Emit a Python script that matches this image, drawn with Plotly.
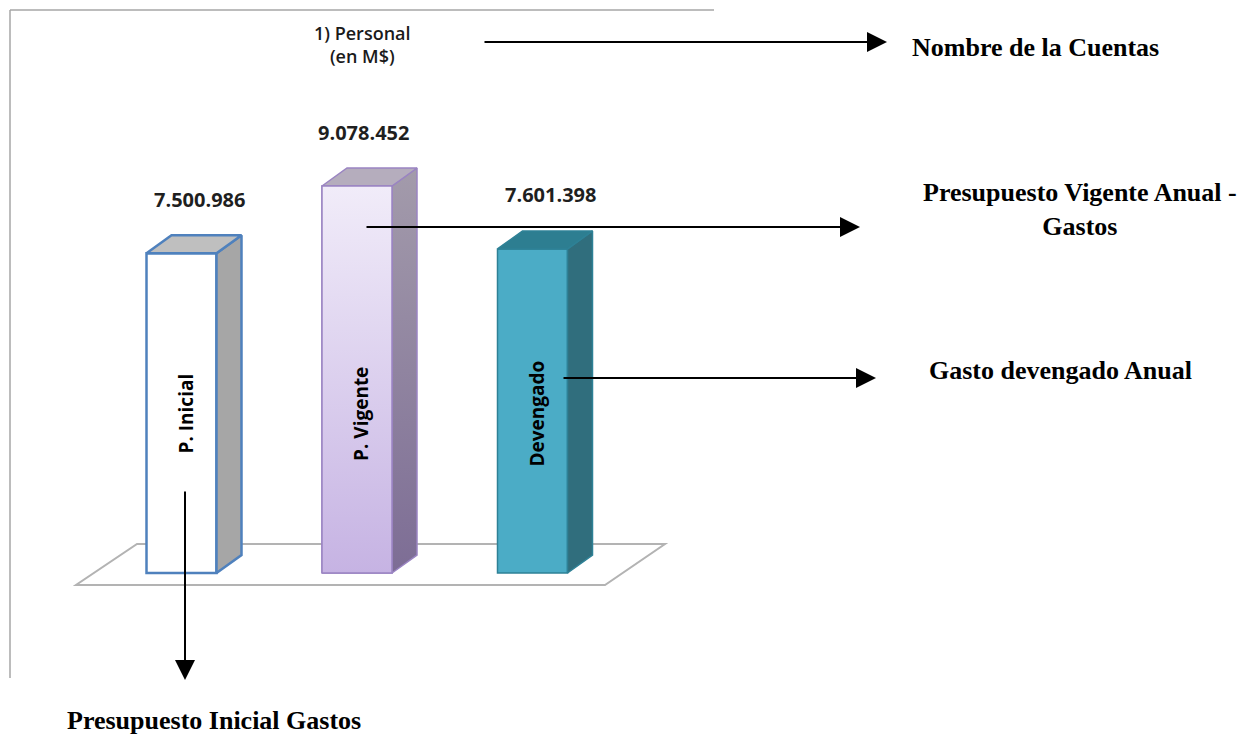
import plotly.graph_objects as go

# ---------------- data ----------------
categories = ["P. Inicial", "P. Vigente", "Devengado"]
values = [7500986, 9078452, 7601398]
value_labels = ["7.500.986", "9.078.452", "7.601.398"]
title_lines = ["1) Personal", "(en M$)"]
callout_texts = [
    "Nombre de la Cuentas",
    "Presupuesto Vigente Anual -<br>Gastos",
    "Gasto devengado Anual",
    "Presupuesto Inicial Gastos",
]

# ---------------- layout helpers ----------------
W, H = 1245, 734
BASE_PX, TOP_PX = 573, 186
UPP = max(values) / (BASE_PX - TOP_PX)  # value units per pixel


def py2val(py):
    return (BASE_PX - py) * UPP


def py2paper(py):
    return 1 - py / H


bar_x = [181.5, 357, 532.5]
bar_w = 70
DX, DY = 25, 18 * UPP

front_fill = ["#FFFFFF", "#DCCDEF", "#4BACC6"]
edge = ["#4F81BD", "#9A84C2", "#2E8196"]
edge_w = [2.5, 1.5, 1.5]
side_fill = ["#A6A6A6", "#8E80A3", "#306E7D"]
top_fill = ["#BFBFBF", "#B5ADBD", "#2D7E91"]
label_xshift = [18, 6, 18]

fig = go.Figure()

# front faces
fig.add_trace(go.Bar(
    x=bar_x, y=values, width=bar_w,
    marker=dict(color=front_fill, line=dict(color=edge, width=edge_w)),
    hoverinfo="skip",
))

for i, v in enumerate(values):
    xl = bar_x[i] - bar_w / 2
    xr = bar_x[i] + bar_w / 2
    # side face
    side = dict(
        x=[xr, xr + DX, xr + DX, xr, xr],
        y=[0, DY, v + DY, v, 0],
        mode="lines", fill="toself",
        line=dict(color=edge[i], width=edge_w[i]),
        hoverinfo="skip",
    )
    if i == 1:
        side["fillgradient"] = dict(type="vertical",
                                    colorscale=[[0, "#7D6D95"], [1, "#A39BAB"]])
    else:
        side["fillcolor"] = side_fill[i]
    fig.add_trace(go.Scatter(**side))
    # top face
    fig.add_trace(go.Scatter(
        x=[xl, xr, xr + DX, xl + DX, xl],
        y=[v, v, v + DY, v + DY, v],
        mode="lines", fill="toself", fillcolor=top_fill[i],
        line=dict(color=edge[i], width=edge_w[i]),
        hoverinfo="skip",
    ))
    if i == 1:
        # gradient overlay for the lavender front face
        fig.add_trace(go.Scatter(
            x=[xl, xr, xr, xl, xl], y=[0, 0, v, v, 0],
            mode="lines", fill="toself",
            fillgradient=dict(type="vertical",
                              colorscale=[[0, "#C6B3E3"], [1, "#F1ECF9"]]),
            line=dict(color=edge[i], width=edge_w[i]),
            hoverinfo="skip",
        ))

annotations = []
# value labels
for i, v in enumerate(values):
    annotations.append(dict(
        x=bar_x[i], y=v, xref="x", yref="y", text=value_labels[i],
        showarrow=False, xshift=label_xshift[i], yshift=54,
        font=dict(family="Open Sans", size=20, color="#1F1F1F", weight="bold"),
    ))
# rotated category labels inside bars
for i, c in enumerate(categories):
    annotations.append(dict(
        x=bar_x[i], y=py2val(414), xref="x", yref="y", text=c,
        showarrow=False, textangle=-90, xshift=4,
        font=dict(family="Open Sans", size=19, color="#000000", weight="bold"),
    ))
# chart title (two lines in one text block)
annotations.append(dict(
    x=362, y=py2paper(45), xref="x", yref="paper",
    text="<br>".join(title_lines),
    showarrow=False, xanchor="center", yanchor="middle", align="center",
    font=dict(family="Open Sans", size=18, color="#1A1A1A", weight=600),
))
# arrows (head x, head py, tail x, tail py)
arrows = [(887, 42, 483, 42), (860, 227, 365, 227),
          (876, 378, 562, 378), (185, 680, 185, 490)]
for hx, hy, tx, ty in arrows:
    annotations.append(dict(
        x=hx, y=py2paper(hy), xref="x", yref="paper", text="",
        showarrow=True, ax=tx - hx, ay=ty - hy, axref="pixel", ayref="pixel",
        arrowhead=2, arrowsize=2, arrowwidth=2, arrowcolor="#000000",
        standoff=0,
    ))
# callout texts
serif = dict(family="Liberation Serif", size=26, color="#000000", weight="bold")
callout_pos = [(910, 47, "left"), (1080, 209, "center"),
               (1060, 370, "center"), (214, 720, "center")]
for t, (x, py, anc) in zip(callout_texts, callout_pos):
    annotations.append(dict(
        x=x, y=py2paper(py), xref="x", yref="paper", text=t,
        showarrow=False, xanchor=anc, yanchor="middle", align="center",
        font=serif,
    ))

shapes = [
    # floor
    dict(type="path", xref="x", yref="y", layer="below",
         path=(f"M 137,{py2val(544)} L 665,{py2val(544)} "
               f"L 605,{py2val(585)} L 76,{py2val(585)} Z"),
         fillcolor="#FFFFFF", line=dict(color="#B3B3B3", width=2)),
    # frame
    dict(type="line", xref="x", yref="paper", x0=10, x1=714,
         y0=py2paper(10), y1=py2paper(10),
         line=dict(color="#A6A6A6", width=1.5)),
    dict(type="line", xref="x", yref="paper", x0=10, x1=10,
         y0=py2paper(10), y1=py2paper(678),
         line=dict(color="#A6A6A6", width=1.5)),
]

fig.update_layout(
    width=W, height=H,
    margin=dict(l=0, r=0, t=0, b=0),
    paper_bgcolor="#FFFFFF", plot_bgcolor="#FFFFFF",
    showlegend=False,
    xaxis=dict(range=[0, W], visible=False, fixedrange=True),
    yaxis=dict(range=[py2val(H), py2val(0)], visible=False, fixedrange=True),
    annotations=annotations,
    shapes=shapes,
)

fig.write_html("out.html")
